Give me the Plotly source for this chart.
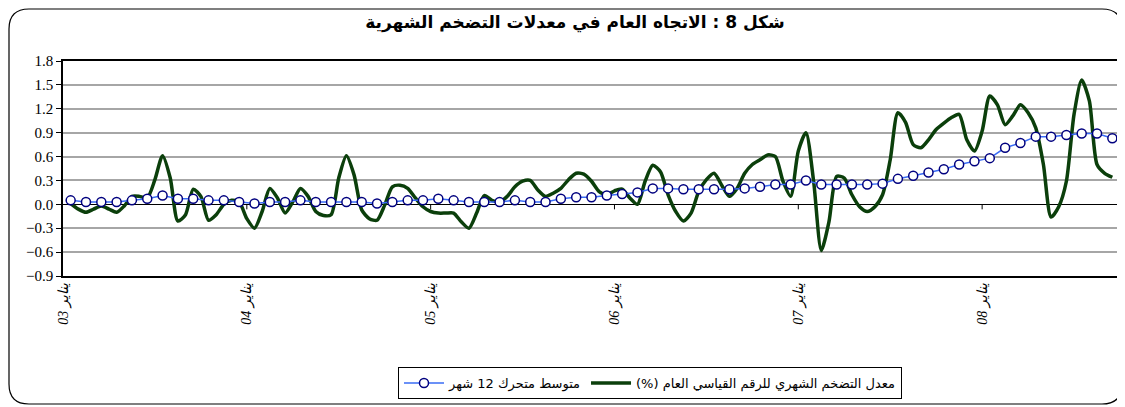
import plotly.graph_objects as go

# monthly 12-month moving average, Jan 2003 .. Sep 2008
months = list(range(69))
moving_avg = [0.05, 0.03, 0.03, 0.03, 0.05, 0.07, 0.11, 0.07, 0.07, 0.05, 0.05, 0.03,
              0.01, 0.03, 0.03, 0.05, 0.03, 0.03, 0.03, 0.03, 0.01, 0.03, 0.05, 0.05,
              0.07, 0.05, 0.03, 0.03, 0.03, 0.05, 0.03, 0.03, 0.07, 0.09, 0.09, 0.11,
              0.13, 0.15, 0.20, 0.20, 0.19, 0.19, 0.19, 0.19, 0.20, 0.22, 0.25, 0.25,
              0.30, 0.25, 0.25, 0.25, 0.25, 0.26, 0.32, 0.36, 0.40, 0.44, 0.50, 0.54,
              0.58, 0.71, 0.77, 0.85, 0.85, 0.87, 0.89, 0.89, 0.83]

# monthly inflation rate (%), read every half month
inflation_x = [i / 2 for i in range(137)]
inflation = [0.01, -0.06, -0.10, -0.06, -0.02, -0.06, -0.10, -0.02, 0.10, 0.10,
             0.08, 0.31, 0.61, 0.33, -0.21, -0.13, 0.19, 0.10, -0.20, -0.13,
             0.00, 0.05, 0.03, -0.18, -0.30, -0.09, 0.20, 0.08, -0.11, 0.03,
             0.20, 0.10, -0.09, -0.14, -0.13, 0.33, 0.61, 0.37, -0.07, -0.18,
             -0.20, -0.01, 0.22, 0.24, 0.20, 0.08, -0.03, -0.09, -0.11, -0.11,
             -0.11, -0.22, -0.30, -0.11, 0.11, 0.05, 0.03, 0.10, 0.22, 0.29,
             0.30, 0.18, 0.10, 0.14, 0.20, 0.31, 0.39, 0.38, 0.29, 0.16,
             0.12, 0.17, 0.19, 0.08, 0.00, 0.29, 0.49, 0.41, 0.12, -0.09,
             -0.21, -0.11, 0.16, 0.31, 0.39, 0.24, 0.10, 0.20, 0.39, 0.50,
             0.56, 0.62, 0.60, 0.29, 0.10, 0.67, 0.90, 0.29, -0.58, -0.22,
             0.35, 0.33, 0.12, -0.03, -0.09, -0.03, 0.12, 0.56, 1.15, 1.03,
             0.75, 0.71, 0.81, 0.94, 1.02, 1.09, 1.13, 0.81, 0.67, 0.92,
             1.36, 1.25, 1.00, 1.11, 1.25, 1.15, 0.96, 0.50, -0.16, -0.03,
             0.29, 1.13, 1.56, 1.30, 0.50, 0.39, 0.34]

year_ticks = [-0.5, 11.5, 23.5, 35.5, 47.5, 59.5]
year_labels = ['يناير 03', 'يناير 04', 'يناير 05', 'يناير 06', 'يناير 07', 'يناير 08']
y_ticks = [-0.9, -0.6, -0.3, 0.0, 0.3, 0.6, 0.9, 1.2, 1.5, 1.8]

# page body has an 8px default margin, so the figure is sized to fill the rest
OFF = 8
W, H = 1125 - OFF, 407 - OFF
ML, MR, MT, MB = 63 - OFF, 5, 61 - OFF, 131
pw, ph = W - ML - MR, H - MT - MB


def px(x):
    # page pixel x -> paper coordinate
    return (x - OFF - ML) / pw


def py(y):
    # page pixel y -> paper coordinate
    return (H - MB - (y - OFF)) / ph


def rtl(s):
    # right-to-left embedding so trailing "(%)" lands on the left
    return '\u202b' + s + '\u202c'


# rounded outer frame
l, r, t, b, rad = 9, 1122, 9, 404, 20
frame = (f"M {px(l + rad)},{py(t)} L {px(r - rad)},{py(t)} "
         f"Q {px(r)},{py(t)} {px(r)},{py(t + rad)} L {px(r)},{py(b - rad)} "
         f"Q {px(r)},{py(b)} {px(r - rad)},{py(b)} L {px(l + rad)},{py(b)} "
         f"Q {px(l)},{py(b)} {px(l)},{py(b - rad)} L {px(l)},{py(t + rad)} "
         f"Q {px(l)},{py(t)} {px(l + rad)},{py(t)} Z")

fig = go.Figure()
fig.add_trace(go.Scatter(
    x=inflation_x, y=inflation, mode='lines',
    name=rtl('معدل التضخم الشهري للرقم القياسي العام (%)'),
    line=dict(color='#0b3f0b', width=3.5, shape='spline', smoothing=0.7),
))
fig.add_trace(go.Scatter(
    x=months, y=moving_avg, mode='lines+markers',
    name=rtl('متوسط متحرك 12 شهر'),
    line=dict(color='#3a6cf5', width=1.5),
    marker=dict(symbol='circle', size=9, color='white',
                line=dict(color='#00007f', width=1.5)),
))

shapes = [dict(type='path', path=frame, xref='paper', yref='paper',
               line=dict(color='black', width=1.2), layer='below')]
for tk in year_ticks[1:]:
    shapes.append(dict(type='line', xref='x', yref='y', x0=tk, x1=tk,
                       ysizemode='pixel', yanchor=0, y0=0, y1=-5,
                       line=dict(color='black', width=1)))

fig.update_layout(
    width=W, height=H,
    margin=dict(l=ML, r=MR, t=MT, b=MB, autoexpand=False),
    paper_bgcolor='white', plot_bgcolor='white',
    title=dict(text='<b>' + rtl('شكل 8 : الاتجاه العام في معدلات التضخم الشهرية') + '</b>',
               x=px(575), xref='paper', xanchor='center',
               y=1 - (22 - OFF) / H, yanchor='middle',
               font=dict(family='DejaVu Sans', size=17, color='black')),
    legend=dict(orientation='h', traceorder='reversed',
                x=px(650), xanchor='center', y=py(367), yanchor='top',
                bordercolor='black', borderwidth=1, bgcolor='white',
                font=dict(family='DejaVu Sans', size=13, color='black'),
                itemwidth=40),
    shapes=shapes,
    showlegend=True,
)
fig.update_xaxes(
    range=[-0.5, 68.5], tickmode='array', tickvals=year_ticks, ticktext=year_labels,
    tickangle=-90, showgrid=False, zeroline=False, automargin=False,
    showline=True, linecolor='black', linewidth=1.5, mirror=True, ticks='',
    tickfont=dict(family='Liberation Serif, DejaVu Serif', size=14, color='black',
                  style='italic'),
)
fig.update_yaxes(
    range=[-0.9, 1.8], tickmode='array', tickvals=y_ticks, automargin=False,
    tickformat='.1f', showgrid=True, gridcolor='#a6a6a6', gridwidth=1.5,
    zeroline=True, zerolinecolor='black', zerolinewidth=1,
    showline=True, linecolor='black', linewidth=1.5, mirror=True,
    ticks='outside', ticklen=5, tickcolor='black',
    tickfont=dict(family='Liberation Serif', size=15, color='black'),
)

fig.write_html("out.html")
